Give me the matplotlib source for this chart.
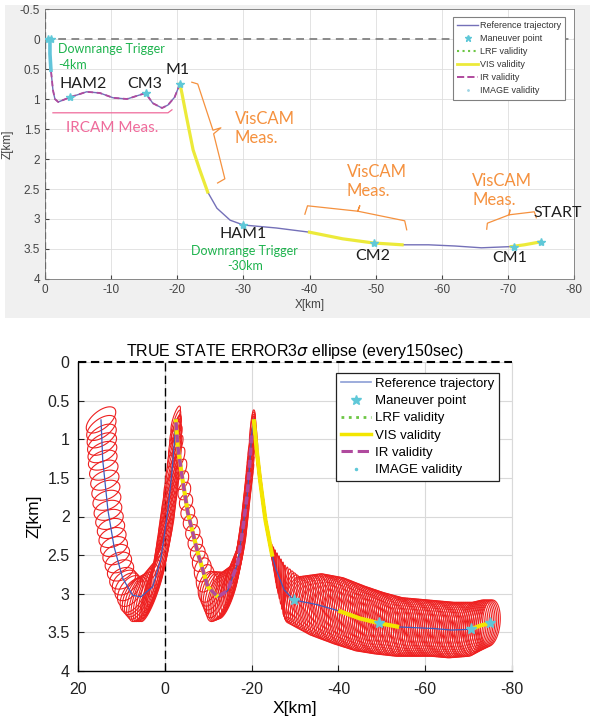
import numpy as np
import matplotlib.pyplot as plt
from matplotlib.lines import Line2D
from matplotlib.patches import Rectangle
from matplotlib.collections import LineCollection
from matplotlib.ticker import FuncFormatter

plt.rcParams['font.family'] = ['Liberation Sans', 'DejaVu Sans']
plt.rcParams['axes.unicode_minus'] = False

# ---------------- top panel data (km) ----------------
top_x = [-75.0, -72.5, -70.5, -66.0, -62.0, -58.0, -54.0, -49.7, -45.0, -40.0,
         -35.0, -30.0, -28.0, -26.0, -24.6, -23.4, -22.4, -21.4, -20.7, -20.4,
         -19.6, -18.6, -17.7, -16.3, -15.2, -14.4, -12.4, -10.3, -8.3, -6.3,
         -3.8, -2.0, -1.5, -1.2, -0.9, -0.75, -0.75]
top_z = [3.38, 3.43, 3.46, 3.48, 3.45, 3.43, 3.43, 3.40, 3.33, 3.22,
         3.15, 3.10, 3.02, 2.82, 2.55, 2.18, 1.85, 1.30, 0.90, 0.75,
         0.97, 1.10, 1.15, 1.07, 0.90, 0.93, 1.00, 0.98, 0.90, 0.88,
         0.97, 1.05, 1.00, 0.85, 0.52, 0.25, 0.00]
top_vis = [(0, 2), (6, 9), (14, 19)]   # index ranges on the trajectory
top_ir = (19, 34)
top_img = (34, 36)
top_man_x = [-75.0, -71.0, -49.7, -30.0, -20.4, -15.2, -3.8, -0.4, -0.9]
top_man_z = [3.38, 3.46, 3.40, 3.10, 0.75, 0.90, 0.97, 0.0, 0.0]

# ---------------- bottom panel data (km) ----------------
bot_x = [-75.0, -72.8, -70.5, -66.0, -62.0, -58.0, -54.0, -49.3, -45.0, -40.0,
         -35.0, -29.7, -27.5, -25.6, -24.8, -23.2, -22.0, -21.1, -20.5, -20.0,
         -19.6, -19.0, -18.0, -16.8, -14.5, -12.2, -9.9, -7.6, -5.3, -4.1,
         -3.0, -2.5, -2.2, -1.6, -0.7, 0.9, 2.8, 5.5, 7.4, 9.7,
         11.7, 13.1, 14.3, 14.7]
bot_z = [3.38, 3.41, 3.46, 3.47, 3.45, 3.44, 3.43, 3.38, 3.32, 3.22,
         3.14, 3.08, 2.95, 2.68, 2.52, 2.05, 1.55, 1.10, 0.74, 0.95,
         1.30, 1.72, 2.15, 2.60, 2.96, 3.04, 2.91, 2.47, 1.95, 1.53,
         1.10, 0.74, 1.05, 1.45, 1.92, 2.55, 2.91, 3.04, 3.02, 2.80,
         2.39, 1.92, 1.27, 0.75]
# 3-sigma half extents (x, z) and x-z correlation at each trajectory point
sig_x = [2.3, 2.5, 2.7, 2.8, 2.8, 2.8, 2.8, 2.8, 2.8, 2.8,
         2.7, 2.2, 0.3, 0.3, 0.6, 0.6, 0.6, 0.5, 0.4, 0.8,
         1.2, 1.5, 1.7, 2.0, 2.5, 2.6, 2.2, 1.7, 1.6, 1.4,
         1.2, 1.1, 1.6, 2.3, 2.9, 3.1, 3.0, 2.8, 2.9, 3.0,
         3.1, 3.2, 3.3, 3.4]
sig_z = [0.30, 0.33, 0.35, 0.36, 0.36, 0.37, 0.38, 0.40, 0.42, 0.43,
         0.40, 0.30, 0.32, 0.25, 0.20, 0.20, 0.18, 0.15, 0.12, 0.25,
         0.35, 0.40, 0.45, 0.45, 0.36, 0.32, 0.20, 0.11, 0.10, 0.12,
         0.15, 0.17, 0.32, 0.50, 0.62, 0.62, 0.45, 0.32, 0.22, 0.14,
         0.13, 0.13, 0.13, 0.17]
corr = [0.2, 0.2, 0.2, 0.2, 0.2, 0.2, 0.2, 0.25, 0.3, 0.3,
        0.4, 0.5, 0.6, -0.8, -0.95, -0.95, -0.95, -0.9, 0.0, 0.95,
        0.97, 0.97, 0.96, 0.93, 0.75, 0.55, 0.3, 0.1, 0.1, 0.4,
        0.7, 0.8, 0.9, 0.95, 0.96, 0.95, 0.85, 0.65, 0.5, 0.3,
        0.3, 0.3, 0.4, 0.6]
# ellipses drawn between consecutive points (one every 150 s)
ell_n = [5, 5, 9, 8, 8, 8, 9, 9, 10, 10,
         10, 6, 5, 3, 6, 6, 5, 4, 3, 4,
         4, 4, 5, 6, 6, 5, 4, 4, 3, 3,
         3, 3, 3, 4, 5, 5, 5, 4, 4, 4,
         4, 5, 5]
bot_vis = [(0, 2), (6, 9), (14, 18), (25, 31)]
bot_ir = (19, 31)
bot_man_x = [-75.0, -70.5, -49.3, -29.7]
bot_man_z = [3.38, 3.46, 3.38, 3.08]

# ---------------- colours ----------------
c_ref_top = '#7470b8'
c_ref = '#3d5cc0'
c_man = '#5fc8d8'
c_vis = '#f3e600'
c_ir = '#b04a9e'
c_lrf = '#6cc644'
c_green = '#1db34d'
c_orange = '#f5913e'
c_pink = '#ef6b9b'
c_black = '#1e1e1e'

fig = plt.figure(figsize=(5.9, 7.2), dpi=100)
fig.add_artist(Rectangle((5 / 590, 1 - 318 / 720), 585 / 590, 313 / 720,
                         transform=fig.transFigure, facecolor='#f0f0f0',
                         edgecolor='none', zorder=0))

fmt = FuncFormatter(lambda v, _: f'{v:g}')

# ======================= TOP =======================
ax1 = fig.add_axes([45 / 590, 1 - 279 / 720, 529 / 590, 270 / 720])
ax1.set_xlim(0, -80)
ax1.set_ylim(4, -0.5)
ax1.set_xticks(np.arange(0, -81, -10))
ax1.set_yticks(np.arange(-0.5, 4.01, 0.5))
ax1.xaxis.set_major_formatter(fmt)
ax1.yaxis.set_major_formatter(fmt)
ax1.grid(True, color='#dedede', lw=0.6)
ax1.set_axisbelow(True)
ax1.tick_params(direction='in', length=3, labelsize=8.5, colors='#444444',
                top=False, right=False)
for s in ax1.spines.values():
    s.set_color('#777777')
    s.set_linewidth(0.6)
ax1.set_xlabel('X[km]', fontsize=8.5, color='#444444', labelpad=2)
ax1.set_ylabel('Z[km]', fontsize=8.5, color='#444444')
ax1.yaxis.set_label_coords(-0.06, 0.5)

ax1.axhline(0, color='#8a8a8a', ls=(0, (4, 2.8)), lw=1.4, zorder=1)
ax1.axvline(0, color='#222222', ls=(0, (3, 1.5)), lw=1.6, zorder=1)

ax1.plot(top_x, top_z, color=c_ref_top, lw=1.0, zorder=3)
for a, b in top_vis:
    ax1.plot(top_x[a:b + 1], top_z[a:b + 1], color='#ecea3a', lw=2.3, zorder=4)
a, b = top_ir
ax1.plot(top_x[a:b + 1], top_z[a:b + 1], color=c_ir, lw=1.3, ls=(0, (3, 2)), zorder=5)
a, b = top_img
ax1.plot(top_x[a:b + 1], top_z[a:b + 1], color='#62c4da', lw=2.6, zorder=5)
ax1.plot(top_man_x, top_man_z, ls='none', marker='*', ms=6, color=c_man, zorder=6)

lato = ['Lato', 'DejaVu Sans']
for name, x, z in [('HAM2', -5.8, 0.75), ('CM3', -15.1, 0.75), ('M1', -20.0, 0.52),
                   ('HAM1', -29.9, 3.25), ('CM2', -49.5, 3.62), ('CM1', -70.2, 3.65),
                   ('START', -77.5, 2.9)]:
    ax1.text(x, z, name, fontsize=11.5, family=lato, color=c_black,
             ha='center', va='center')
ax1.text(-2.0, 0.30, 'Downrange Trigger\n-4km', fontsize=9, family=lato,
         color=c_green, ha='left', va='center', linespacing=1.35)
ax1.text(-30.2, 3.66, 'Downrange Trigger\n-30km', fontsize=9, family=lato,
         color=c_green, ha='center', va='center', linespacing=1.35)
ax1.text(-10.1, 1.49, 'IRCAM Meas.', fontsize=11, family=lato, color=c_pink,
         ha='center', va='center')
ax1.plot([-1.2, -18.6, -19.2], [1.23, 1.23, 1.18], color=c_pink, lw=0.9)
for x, z in [(-28.7, 1.49), (-45.6, 2.38), (-64.6, 2.52)]:
    ax1.text(x, z, 'VisCAM\nMeas.', fontsize=12, family=lato, color=c_orange,
             ha='left', va='center', linespacing=1.25)
ax1.plot([-22.2, -23.1, -25.4, -26.6, -25.5, -27.2, -26.1],
         [0.72, 0.75, 1.52, 1.48, 1.58, 2.33, 2.40], color=c_orange, lw=0.9)
ax1.plot([-39.3, -39.7, -47.3, -47.6, -47.3, -54.4, -54.7],
         [2.92, 2.78, 2.87, 2.78, 2.87, 3.03, 3.18], color=c_orange, lw=0.9)
ax1.plot([-66.8, -66.9, -70.2, -70.3, -70.2, -74.0, -74.3],
         [3.17, 3.07, 2.93, 2.85, 2.93, 2.88, 2.98], color=c_orange, lw=0.9)

h_top = [Line2D([], [], color=c_ref_top, lw=1.0),
         Line2D([], [], ls='none', marker='*', ms=5, color=c_man),
         Line2D([], [], color=c_lrf, ls=':', lw=1.5),
         Line2D([], [], color='#ecea3a', lw=2.0),
         Line2D([], [], color=c_ir, ls='--', lw=1.4),
         Line2D([], [], ls='none', marker='.', ms=2, color='#9ed4e4')]
labels = ['Reference trajectory', 'Maneuver point', 'LRF validity',
          'VIS validity', 'IR validity', 'IMAGE validity']
leg1 = ax1.legend(h_top, labels, loc='upper right', bbox_to_anchor=(0.983, 0.97),
                  fontsize=6.5, fancybox=False, edgecolor='#808080', framealpha=1,
                  labelspacing=0.45, handlelength=2.4, handletextpad=0.15,
                  borderpad=0.45, borderaxespad=0)
leg1.get_frame().set_linewidth(0.8)
for t in leg1.get_texts():
    t.set_color('#333333')

# ======================= BOTTOM =======================
ax2 = fig.add_axes([78 / 590, 1 - 671 / 720, 434 / 590, 309 / 720])
ax2.set_xlim(20, -80)
ax2.set_ylim(4, 0)
ax2.set_xticks([20, 0, -20, -40, -60, -80])
ax2.set_yticks(np.arange(0, 4.01, 0.5))
ax2.xaxis.set_major_formatter(fmt)
ax2.yaxis.set_major_formatter(fmt)
ax2.grid(True, color='#d9d9d9', lw=0.8)
ax2.set_axisbelow(True)
ax2.tick_params(direction='in', length=4, labelsize=11.5, colors='#222222',
                top=False, right=False)
ax2.tick_params(axis='x', pad=8)
ax2.tick_params(axis='y', pad=6)
ax2.spines['top'].set_visible(False)
ax2.spines['right'].set_color('#d9d9d9')
ax2.spines['left'].set_linewidth(1.0)
ax2.spines['bottom'].set_linewidth(1.0)
ax2.set_xlabel('X[km]', fontsize=12.5, labelpad=3)
ax2.set_ylabel('Z[km]', fontsize=12.5, labelpad=4)
ax2.set_title('TRUE STATE ERROR3$\\sigma$ ellipse (every150sec)', fontsize=11.5, pad=4)

ax2.axhline(0, color='k', ls=(0, (4, 2.2)), lw=1.5, zorder=7, clip_on=False)
ax2.axvline(0, color='k', ls=(0, (6, 3)), lw=1.0, zorder=1)

# error ellipses along the trajectory
idx = np.arange(len(bot_x))
u = np.concatenate([np.linspace(i, i + 1, n, endpoint=False) for i, n in enumerate(ell_n)]
                   + [[idx[-1]]])
cx = np.interp(u, idx, bot_x)
cz = np.interp(u, idx, bot_z)
sx = np.interp(u, idx, sig_x)
sz = np.interp(u, idx, sig_z)
rr = np.clip(np.interp(u, idx, corr), -0.995, 0.995)
t = np.linspace(0, 2 * np.pi, 73)
segs = [np.column_stack([x0 + a * np.cos(t), z0 + b * np.cos(t - np.arccos(r))])
        for x0, z0, a, b, r in zip(cx, cz, sx, sz, rr)]
ax2.add_collection(LineCollection(segs, colors='#ee2020', linewidths=0.8, zorder=2))

ax2.plot(bot_x, bot_z, color=c_ref, lw=0.9, zorder=3)
for a, b in bot_vis:
    ax2.plot(bot_x[a:b + 1], bot_z[a:b + 1], color=c_vis, lw=3.0, zorder=4,
             solid_capstyle='butt')
a, b = bot_ir
ax2.plot(bot_x[a:b + 1], bot_z[a:b + 1], color=c_ir, lw=2.6, ls=(0, (2.2, 1.2)), zorder=5)
ax2.plot(bot_man_x, bot_man_z, ls='none', marker='*', ms=8, color=c_man, zorder=6)

h_bot = [Line2D([], [], color='#8c9ed6', lw=1.2),
         Line2D([], [], ls='none', marker='*', ms=7, color=c_man),
         Line2D([], [], color=c_lrf, ls=':', lw=2.0),
         Line2D([], [], color=c_vis, lw=2.5),
         Line2D([], [], color=c_ir, ls='--', lw=2.2),
         Line2D([], [], ls='none', marker='.', ms=3, color=c_man)]
leg2 = ax2.legend(h_bot, labels, loc='upper right', bbox_to_anchor=(0.970, 0.964),
                  fontsize=9.5, fancybox=False, edgecolor='#222222', framealpha=1,
                  labelspacing=0.38, handlelength=2.3, handletextpad=0.3,
                  borderpad=0.35, borderaxespad=0)
leg2.get_frame().set_linewidth(0.9)

fig.savefig('out.png', dpi=100)
